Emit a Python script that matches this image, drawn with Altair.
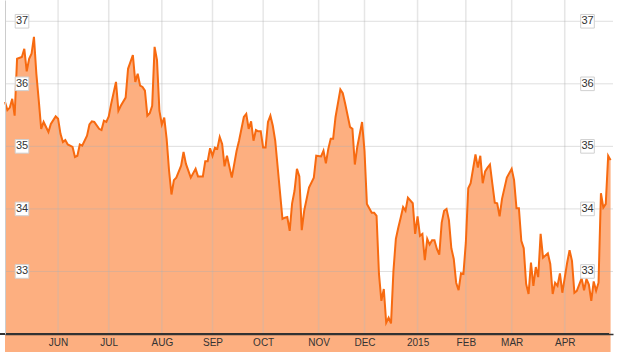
import altair as alt
import pandas as pd

# trading-day index (0 = first trading day of May 2014) and closing price
day = [-1, 0, 1, 2, 3, 4, 6, 7, 8, 9, 10, 11, 12, 13, 14, 15, 17, 18, 20, 21,
       22, 23, 24, 25, 27, 28, 29, 30, 31, 33, 34, 35, 36, 38, 39, 40, 41, 42, 43, 45,
       46, 47, 49, 50, 52, 53, 54, 55, 56, 57, 58, 59, 60, 61, 62, 63, 64, 65, 66, 67,
       68, 69, 70, 72, 73, 74, 76, 78, 79, 81, 82, 83, 84, 85, 86, 87, 88, 89, 90, 91,
       93, 95, 96, 98, 99, 100, 101, 102, 103, 104, 105, 106, 107, 108, 109, 110, 111, 114, 115, 116,
       117, 118, 119, 120, 121, 122, 123, 125, 127, 128, 130, 131, 132, 133, 134, 135, 136, 138, 139, 140,
       142, 143, 144, 145, 147, 148, 149, 151, 152, 153, 154, 155, 156, 157, 158, 159, 160, 161, 162, 163,
       164, 165, 166, 168, 169, 170, 171, 172, 173, 174, 175, 176, 177, 178, 179, 180, 181, 182, 183, 184,
       185, 186, 187, 188, 189, 190, 191, 192, 194, 195, 196, 197, 198, 199, 200, 201, 202, 203, 204, 205,
       207, 209, 210, 211, 212, 213, 214, 215, 216, 217, 218, 219, 220, 221, 222, 224, 225, 226, 227, 228,
       229, 230, 231, 232, 233, 234, 235, 236, 237, 238, 239, 240, 241, 242, 243, 244, 245, 246, 247, 248,
       249, 250]
price = [35.71, 35.58, 35.62, 35.76, 35.49, 36.40, 36.43, 36.56, 36.20, 36.40, 36.48, 36.75, 36.16, 35.73, 35.28, 35.39, 35.23, 35.36, 35.48, 35.44,
         35.20, 35.07, 35.10, 35.03, 34.99, 34.83, 34.85, 35.03, 35.01, 35.17, 35.35, 35.40, 35.39, 35.28, 35.26, 35.41, 35.39, 35.48, 35.68, 36.03,
         35.57, 35.65, 35.78, 36.24, 36.46, 36.03, 36.16, 35.97, 35.95, 35.89, 35.49, 35.53, 35.65, 36.59, 36.38, 35.57, 35.35, 35.46, 35.12, 34.61,
         34.23, 34.46, 34.50, 34.69, 34.91, 34.72, 34.50, 34.64, 34.52, 34.52, 34.76, 34.76, 34.97, 34.85, 34.98, 34.96, 35.15, 35.04, 34.68, 34.85,
         34.50, 34.93, 35.09, 35.47, 35.52, 35.28, 35.40, 35.09, 35.26, 35.24, 35.24, 34.98, 34.98, 35.39, 35.49, 35.33, 35.09, 33.84, 33.86, 33.87,
         33.65, 34.09, 34.29, 34.64, 34.52, 33.66, 33.97, 34.34, 34.50, 34.85, 34.84, 34.93, 34.73, 34.96, 35.12, 35.12, 35.47, 35.91, 35.85, 35.68,
         35.31, 35.28, 34.71, 34.99, 35.39, 34.93, 34.08, 33.94, 33.94, 33.89, 32.96, 32.53, 32.72, 32.18, 32.26, 32.17, 33.01, 33.52, 33.70, 33.86,
         34.03, 33.97, 34.18, 34.09, 33.60, 33.88, 33.57, 33.60, 33.18, 33.52, 33.43, 33.50, 33.50, 33.36, 33.27, 33.78, 33.97, 34.00, 33.82, 33.37,
         33.20, 32.82, 32.70, 32.97, 32.96, 33.46, 34.33, 34.41, 34.87, 34.66, 34.85, 34.41, 34.60, 34.66, 34.71, 34.40, 34.10, 34.09, 33.88, 34.16,
         34.50, 34.64, 34.46, 34.01, 34.01, 33.49, 33.37, 32.80, 32.64, 33.14, 32.77, 33.07, 32.91, 33.60, 33.22, 33.29, 33.12, 32.64, 32.82, 32.77,
         32.97, 32.66, 32.90, 33.14, 33.34, 33.17, 32.66, 32.69, 32.79, 32.89, 32.70, 32.88, 32.79, 32.53, 32.84, 32.69, 32.82, 34.25, 34.02, 34.08,
         34.85, 34.78]

# first trading day of each month (index) and its label
month_day = [21, 42, 64, 85, 106, 129, 148, 170, 190, 209, 231]
month_label = ["JUN", "JUL", "AUG", "SEP", "OCT", "NOV", "DEC", "2015", "FEB", "MAR", "APR"]
y_ticks = [33, 34, 35, 36, 37]

FONT = "Liberation Sans"
LINE = "#f76a10"
FILL = "#fdaf80"

df = pd.DataFrame({"day": day, "price": price})
months = pd.DataFrame({"day": month_day, "label": month_label})
ticks = pd.DataFrame({"v": y_ticks, "t": [str(v) for v in y_ticks]})

xscale = alt.Scale(domain=[-1, 251], nice=False, zero=False)
yscale = alt.Scale(domain=[32, 37.34], nice=False, zero=False)

label_expr = ("[" + ",".join("'%s'" % m for m in month_label) + "][indexof(["
              + ",".join(str(d) for d in month_day) + "], datum.value)]")

x_enc = alt.X("day:Q", scale=xscale, axis=alt.Axis(
    values=month_day, labelExpr=label_expr, grid=False, ticks=False,
    domain=True, domainColor="#333333", domainWidth=1.5, labelFont=FONT,
    labelFontSize=10, labelColor="#333333", labelPadding=3, zindex=1,
    title=None, labelFlush=False))
y_enc = alt.Y("price:Q", scale=yscale, axis=alt.Axis(
    labels=False, ticks=False, grid=False, domain=True, domainColor="#cccccc",
    domainWidth=1, title=None, zindex=1))

area = alt.Chart(df).mark_area(color=FILL, opacity=1).encode(x=x_enc, y=y_enc)
line = alt.Chart(df).mark_line(color=LINE, strokeWidth=2).encode(x="day:Q", y="price:Q")

vgrid = alt.Chart(months).mark_rule(color="#b8b8b8", opacity=0.35, strokeWidth=1.5).encode(
    x=alt.X("day:Q", scale=xscale))
hgrid = alt.Chart(ticks).mark_rule(color="#b0b0b0", opacity=0.4, strokeWidth=1).encode(
    y=alt.Y("v:Q", scale=yscale))

# bottom baseline extends slightly past the plot on the left
baseline = alt.Chart(ticks).mark_rule(color="#333333", strokeWidth=1.5).encode(
    x=alt.value(-5), x2=alt.value(604), y=alt.value(334))

def boxes(xpos):
    sq = alt.Chart(ticks).mark_square(size=185, filled=True, fill="white", stroke="#d0d0d0",
                                      strokeWidth=1, opacity=1).encode(
        x=alt.value(xpos), y=alt.Y("v:Q", scale=yscale))
    tx = alt.Chart(ticks).mark_text(font=FONT, fontSize=11, color="#333333", align="center",
                                    baseline="middle").encode(
        x=alt.value(xpos), y=alt.Y("v:Q", scale=yscale), text="t:N")
    return sq + tx

chart = alt.layer(area, vgrid, hgrid, line, baseline, boxes(17), boxes(582.5)).properties(
    width=608, height=334,
    autosize=alt.AutoSizeParams(type="none"),
    padding={"left": 5, "top": 0, "right": 7, "bottom": 18},
    background="white",
).configure_view(stroke=None)

chart.save("out.html", embed_options={"renderer": "svg", "actions": False})
